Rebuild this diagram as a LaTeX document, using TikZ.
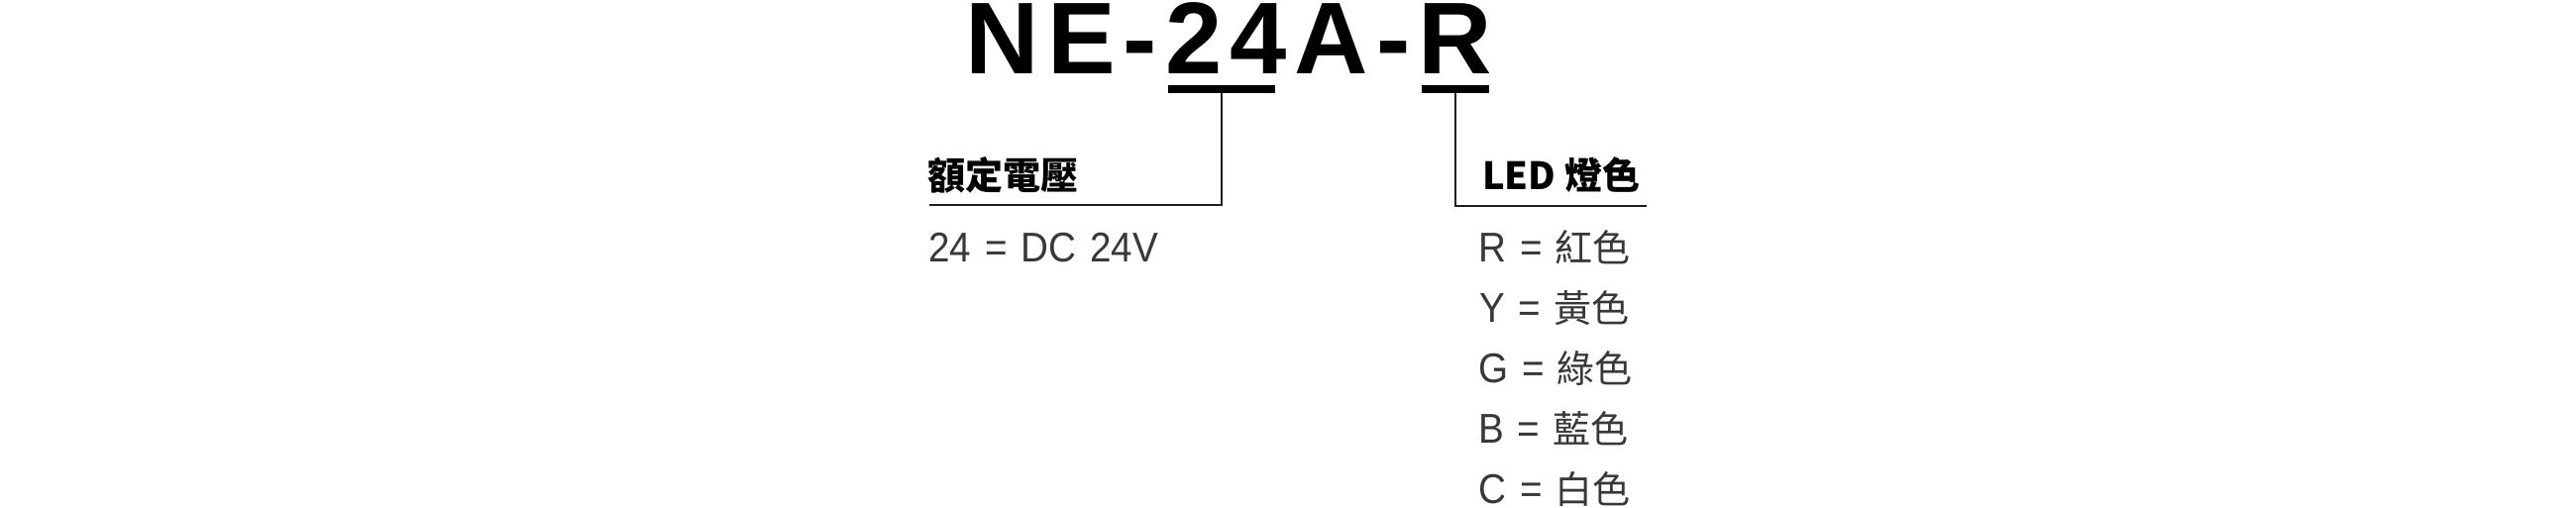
\documentclass[tikz,border=0pt]{standalone}
\usepackage{fontspec}
\setmainfont{Liberation Sans}
\newfontfamily\cjk{Noto Sans CJK TC}
\newfontfamily\itemfont[FakeStretch=0.92, WordSpace=1.3]{Liberation Sans}
\begin{document}
\begin{tikzpicture}[x=1pt,y=-1pt,
  title/.style={inner sep=0pt, anchor=base west, font=\fontsize{103}{110}\selectfont\bfseries},
  bar/.style={fill=black, inner sep=0pt, minimum height=8pt, anchor=north west},
  lead/.style={line width=2pt, draw=black!88},
  head/.style={inner sep=0pt, anchor=base west, font=\cjk\bfseries\fontsize{38}{44}\selectfont},
  item/.style={inner sep=0pt, anchor=base west, text=black!78, font=\itemfont\fontsize{42}{48}\selectfont},
]
\useasboundingbox (0,0) rectangle (2600,512);
\node[title] (tNE) at (974.5,74) {N\kern8pt E\kern8pt -};
\node[title] (t24) at (1175.9,74) {2\kern8pt 4};
\node[title] (tA) at (1306.5,74) {A\kern8pt -};
\node[title] (tR) at (1431.2,74) {R};
\node[bar, minimum width=108pt] (b24) at (1179,86) {};
\node[bar, minimum width=68pt] (bR) at (1435,86) {};
\coordinate (e24) at (938,207);
\coordinate (eR) at (1662,208);
\draw[lead] (b24.south) |- (e24);
\draw[lead] (bR.south) |- (eR);
\node[head] (h24) at (936,191) {額定電壓};
\node[head] (hR) at (1496,191) {LED 燈色};
\node[item] (v24) at (937,264) {24 = DC 24V};
\node[item] (cR) at (1492,264) {R = \kern-1pt{\cjk\fontsize{38}{44}\selectfont 紅色}};
\node[item] (cY) at (1493,325) {Y = \kern-1pt{\cjk\fontsize{38}{44}\selectfont 黃色}};
\node[item] (cG) at (1492,386) {G = \kern-1pt{\cjk\fontsize{38}{44}\selectfont 綠色}};
\node[item] (cB) at (1492,447) {B = \kern-1pt{\cjk\fontsize{38}{44}\selectfont 藍色}};
\node[item] (cC) at (1492,508) {C = \kern-1pt{\cjk\fontsize{38}{44}\selectfont 白色}};
\end{tikzpicture}
\end{document}
